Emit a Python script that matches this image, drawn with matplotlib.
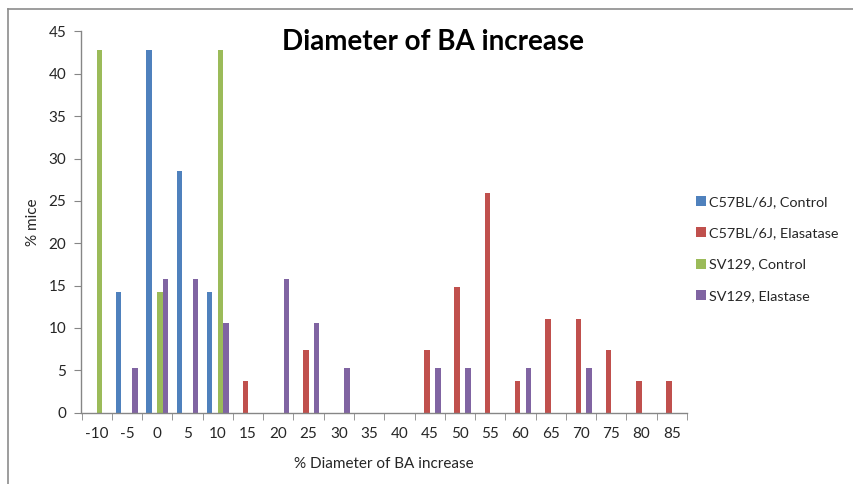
import matplotlib
matplotlib.use("Agg")
import matplotlib.pyplot as plt
from matplotlib.lines import Line2D
import numpy as np

categories = ["-10", "-5", "0", "5", "10", "15", "20", "25", "30", "35", "40",
              "45", "50", "55", "60", "65", "70", "75", "80", "85"]
series_names = ["C57BL/6J, Control", "C57BL/6J, Elasatase", "SV129, Control", "SV129, Elastase"]
c57_control = [0, 14.29, 42.86, 28.57, 14.29, 0, 0, 0, 0, 0, 0, 0, 0, 0, 0, 0, 0, 0, 0, 0]
c57_elastase = [0, 0, 0, 0, 0, 3.70, 0, 7.41, 0, 0, 0, 7.41, 14.81, 25.93, 3.70, 11.11, 11.11, 7.41, 3.70, 3.70]
sv129_control = [42.86, 0, 14.29, 0, 42.86, 0, 0, 0, 0, 0, 0, 0, 0, 0, 0, 0, 0, 0, 0, 0]
sv129_elastase = [0, 5.26, 15.79, 15.79, 10.53, 0, 15.79, 10.53, 5.26, 0, 0, 5.26, 5.26, 0, 5.26, 0, 5.26, 0, 0, 0]
colors = ["#4F81BD", "#C0504D", "#9BBB59", "#8064A2"]

plt.rcParams['font.family'] = ['Lato', 'DejaVu Sans']

fig = plt.figure(figsize=(8.54, 4.84), dpi=100)
W, H = 854, 484
ax = fig.add_axes([81.5 / W, 1 - 412.7 / H, (687 - 81.5) / W, (412.7 - 31.5) / H])

x = np.arange(len(categories))
bw = 0.18
all_series = [c57_control, c57_elastase, sv129_control, sv129_elastase]
for k, (vals, name, col) in enumerate(zip(all_series, series_names, colors)):
    ax.bar(x + (k - 1.5) * bw, vals, width=bw, color=col, label=name, linewidth=0)

ax.set_xlim(-0.5, len(categories) - 0.5)
ax.set_ylim(0, 45)
ax.set_yticks(np.arange(0, 46, 5))
ax.set_xticks(x)
ax.set_xticklabels(categories)
ax.set_xticks(np.arange(-0.5, len(categories), 1), minor=True)
ax.tick_params(axis='x', which='major', length=0, pad=10, labelsize=11, colors='#262626')
ax.tick_params(axis='x', which='minor', length=5, direction='out', color='#868686')
ax.tick_params(axis='y', length=5, direction='out', color='#868686', labelsize=11, pad=6)
for lab in ax.get_yticklabels():
    lab.set_color('#262626')
for s in ['top', 'right']:
    ax.spines[s].set_visible(False)
for s in ['left', 'bottom']:
    ax.spines[s].set_color('#868686')
    ax.spines[s].set_linewidth(1.0)

ax.set_xlabel("% Diameter of BA increase", fontsize=11, color='#262626', labelpad=12)
ax.set_ylabel("% mice", fontsize=11, color='#262626', labelpad=6)

fig.text(433 / W, 1 - 42 / H, "Diameter of BA increase", ha='center', va='center',
         fontsize=20, fontweight='bold', color='#000000')

handles = [Line2D([0], [0], marker='s', linestyle='none', markersize=6.5,
                  markerfacecolor=c, markeredgewidth=0) for c in colors]
leg = fig.legend(handles, series_names, loc='center left', bbox_to_anchor=(687 / W, 1 - 249 / H),
                 frameon=False, fontsize=10.4, handletextpad=0.05, labelspacing=1.32,
                 handlelength=1.0, borderpad=0)
for t in leg.get_texts():
    t.set_color('#262626')

# outer chart border (top and left visible)
fig.add_artist(Line2D([8 / W, 1], [1 - 9 / H, 1 - 9 / H], color='#8c8c8c', linewidth=1.2,
                      transform=fig.transFigure))
fig.add_artist(Line2D([8 / W, 8 / W], [1 - 9 / H, 0], color='#8c8c8c', linewidth=1.2,
                      transform=fig.transFigure))

fig.savefig("out.png", dpi=100)
